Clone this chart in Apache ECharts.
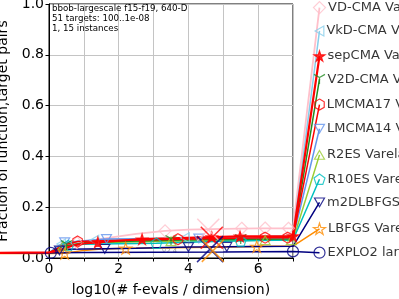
<!DOCTYPE html>
<html><head><meta charset="utf-8">
<script src="https://cdn.jsdelivr.net/npm/echarts@6/dist/echarts.min.js"></script>
<style>html,body{margin:0;padding:0;background:#fff}#c{width:399px;height:299px}</style>
</head><body><div id="c"></div>
<script>
// ---- text ----
const titleLines = ['bbob-largescale f15-f19, 640-D', '51 targets: 100..1e-08', '1, 15 instances'];
const xName = 'log10(# f-evals / dimension)';
const yName = 'Fraction of function,target pairs';
const xTickLabels = ['0', '', '2', '', '4', '', '6', ''];
const yTickLabels = ['0.0', '0.2', '0.4', '0.6', '0.8', '1.0'];
const versionText = 'v2.4';

// ---- algorithms (legend order, top to bottom) ----
const algNames = ['VD-CMA Varelas', 'VkD-CMA Varelas', 'sepCMA Varelas', 'V2D-CMA Varelas',
  'LMCMA17 Varelas', 'LMCMA14 Varelas', 'R2ES Varelas', 'R10ES Varelas',
  'm2DLBFGS Varelas', 'LBFGS Varelas', 'EXPLO2 largescale'];
const legendX = 7.76;
const legendY = [0.986, 0.894, 0.795, 0.704, 0.604, 0.509, 0.406, 0.310, 0.219, 0.115, 0.021];

// ECDF curves [log10(evals/dim), fraction]
const vdCurve   = [[-1.5,0.02],[0,0.02],[0.5,0.04],[0.8,0.06],[1.5,0.075],[2.5,0.095],[3.33,0.107],[4,0.112],[5,0.115],[6,0.117],[7,0.117]];
const vkdCurve  = [[-1.5,0.02],[0,0.02],[0.3,0.05],[0.8,0.065],[1.5,0.072],[2.5,0.076],[4,0.08],[5.5,0.083],[7,0.088]];
const sepCurve  = [[-1.5,0.02],[0,0.022],[0.3,0.03],[0.7,0.05],[1,0.057],[1.4,0.061],[2,0.068],[2.67,0.074],[3.5,0.077],[4.67,0.082],[5.48,0.085],[7,0.086]];
const v2dCurve  = [[-1.5,0.02],[0,0.02],[0.4,0.045],[1,0.06],[2,0.065],[3.5,0.07],[5,0.073],[7,0.075]];
const lm17Curve = [[-1.5,0.02],[0,0.02],[0.4,0.05],[0.82,0.065],[1.5,0.068],[3,0.072],[4.5,0.076],[6.2,0.08],[7,0.08]];
const lm14Curve = [[-1.5,0.02],[0,0.02],[0.4,0.06],[1,0.068],[1.65,0.075],[3,0.076],[4.3,0.077],[5.5,0.078],[7,0.078]];
const r2Curve   = [[-1.5,0.02],[0,0.02],[0.35,0.045],[1,0.058],[2,0.062],[3.5,0.066],[5,0.068],[6.2,0.07],[7,0.07]];
const r10Curve  = [[-1.5,0.02],[0,0.02],[0.3,0.04],[0.6,0.05],[1,0.054],[2,0.056],[3.08,0.058],[4,0.062],[5,0.066],[6,0.069],[7,0.071]];
const m2dCurve  = [[-1.5,0.02],[0,0.02],[0.2,0.028],[0.5,0.034],[1.6,0.036],[2.5,0.038],[4,0.043],[5.1,0.044],[6,0.045],[7,0.046]];
const lbfgsCurve= [[-1.5,0.018],[0,0.018],[0.45,0.019],[1,0.03],[1.5,0.035],[2.2,0.038],[3.5,0.04],[4.6,0.042],[5.96,0.045],[7,0.047]];
const exploCurve= [[-1.5,0.02],[0,0.02],[0.2,0.021],[1,0.022],[3,0.023],[5,0.024],[7,0.026]];

// marker positions on the curves
const vdMarks   = [[0.8,0.06],[3.33,0.107],[5.53,0.117],[6.2,0.118],[6.87,0.117]];
const vkdMarks  = [[0.35,0.055],[1.3,0.07],[3.9,0.08]];
const sepMarks  = [[1.4,0.061],[2.67,0.074],[4.67,0.082],[5.48,0.085],[7,0.086]];
const v2dMarks  = [[0.5,0.05],[3.5,0.07],[5.5,0.074]];
const lm17Marks = [[0.82,0.065],[3.7,0.074],[6.2,0.08],[6.85,0.08]];
const lm14Marks = [[0.45,0.062],[1.65,0.075],[4.3,0.077]];
const r2Marks   = [[0.4,0.048],[3.5,0.066],[6.2,0.07],[6.95,0.07]];
const r10Marks  = [[0.55,0.049],[3.08,0.058],[5.5,0.067]];
const m2dMarks  = [[0.3,0.03],[1.6,0.036],[4.0,0.043],[5.1,0.044]];
const lbfgsMarks= [[0.45,0.019],[2.2,0.038],[5.96,0.045]];
const exploMarks= [[0.05,0.02],[7,0.026]];

// budget crosses
const crossPts = [[4.57,0.111],[4.67,0.08],[4.62,0.035],[4.7,0.028]];

// ---- layout / styles ----
const G = { left: 49, right: 106, top: 4, bottom: 41, W: 399, H: 299, xMin: 0, xMax: 7, yMin: 0, yMax: 1 };
const gw = G.W - G.left - G.right, gh = G.H - G.top - G.bottom;
const xu = (G.xMax - G.xMin) / gw, yu = (G.yMax - G.yMin) / gh;
const full = { xMin: G.xMin - G.left * xu, xMax: G.xMax + G.right * xu, yMin: G.yMin - G.bottom * yu, yMax: G.yMax + G.top * yu };

const colors = ['#ffc0cb','#87ceeb','#ff0000','#228b22','#ff0000','#6495ed','#9acd32','#00bfbf','#000080','#ff8c00','#000080'];
const S = {
  diamond: 'path://M50,0 L100,50 L50,100 L0,50 Z',
  triLeft: 'path://M87,0 L87,100 L0,50 Z',
  star: 'path://M50,0 L61,35 L98,35 L68,57 L79,91 L50,70 L21,91 L32,57 L2,35 L39,35 Z',
  tri1: 'path://M50,50 L50,100 M50,50 L7,25 M50,50 L93,25',
  hex: 'path://M50,0 L93,25 L93,75 L50,100 L7,75 L7,25 Z',
  triDown: 'path://M0,0 L100,0 L50,87 Z',
  triUp: 'path://M50,0 L100,87 L0,87 Z',
  pent: 'path://M50,0 L98,35 L79,91 L21,91 L2,35 Z',
  circle: 'circle',
  cross: 'path://M0,0 L100,100 M100,0 L0,100'
};
const symbols = [S.diamond,S.triLeft,S.star,S.tri1,S.hex,S.triDown,S.triUp,S.pent,S.triDown,S.star,S.circle];
const sizes = [12,10,11,11,11,10,10,11,10,12,11];
const filled = [false,false,true,false,false,false,false,false,false,false,false];
const lineW = [1.8,1.5,2.2,1.5,1.5,1.5,1.5,1.5,1.5,1.5,1.5];
const crossColors = ['#ffc0cb','#ff0000','#000080','#ff8c00'];

const curves = [vdCurve,vkdCurve,sepCurve,v2dCurve,lm17Curve,lm14Curve,r2Curve,r10Curve,m2dCurve,lbfgsCurve,exploCurve];
const marks = [vdMarks,vkdMarks,sepMarks,v2dMarks,lm17Marks,lm14Marks,r2Marks,r10Marks,m2dMarks,lbfgsMarks,exploMarks];

const FONT = 'DejaVu Sans';
const drawOrder = [0,1,5,6,7,3,4,9,8,10,2];
const series = [];
const onFull = { xAxisIndex: 1, yAxisIndex: 1 };
drawOrder.forEach((i, k) => {
  const c = colors[i];
  series.push(Object.assign({
    type: 'line', data: curves[i].concat([[legendX, legendY[i]]]),
    showSymbol: false, symbol: 'none', silent: true, z: 2 + k * 0.01,
    lineStyle: { color: c, width: lineW[i] }, animation: false
  }, onFull));
  const mdata = marks[i].map(p => ({ value: p }));
  mdata.push({ value: [legendX, legendY[i]], label: {
    show: true, position: 'right', distance: 2, formatter: algNames[i],
    color: '#000', fontSize: 13, fontFamily: FONT } });
  series.push(Object.assign({
    type: 'scatter', data: mdata, symbol: symbols[i], symbolSize: sizes[i], symbolKeepAspect: true,
    silent: true, z: 3 + k * 0.01, animation: false,
    itemStyle: { color: filled[i] ? c : 'rgba(0,0,0,0)', borderColor: c, borderWidth: 1.2 }
  }, onFull));
});
series.push(Object.assign({
  type: 'scatter', symbol: S.cross, symbolSize: 22, silent: true, z: 4, animation: false,
  data: crossPts.map((p, j) => ({ value: p, symbolSize: j === 2 ? 26 : 22,
    itemStyle: { color: 'rgba(0,0,0,0)', borderColor: crossColors[j], borderWidth: 1.5, opacity: 0.8 } }))
}, onFull));

const chart = echarts.init(document.getElementById('c'), null, { renderer: 'canvas' });
chart.setOption({
  animation: false,
  backgroundColor: '#fff',
  grid: [
    { left: G.left, right: G.right, top: G.top, bottom: G.bottom, show: true, borderColor: '#000', borderWidth: 1,
      backgroundColor: 'rgba(0,0,0,0)', containLabel: false, outerBoundsMode: 'none' },
    { left: 0, right: 0, top: 0, bottom: 0, show: false, containLabel: false, outerBoundsMode: 'none' }
  ],
  xAxis: [{
    gridIndex: 0, type: 'value', min: G.xMin, max: G.xMax, interval: 1,
    name: xName, nameLocation: 'middle', nameGap: 25,
    nameTextStyle: { fontFamily: FONT, fontSize: 14, color: '#000' },
    axisLine: { lineStyle: { color: '#000', width: 1 } },
    axisTick: { show: true, length: 3.5, lineStyle: { color: '#000' } },
    axisLabel: { margin: 4, fontFamily: FONT, fontSize: 14, color: '#000',
      formatter: v => xTickLabels[Math.round(v)] || '' },
    splitLine: { show: true, lineStyle: { color: '#c4c4c4', width: 1 } }
  }, {
    gridIndex: 1, type: 'value', min: full.xMin, max: full.xMax, show: false
  }],
  yAxis: [{
    gridIndex: 0, type: 'value', min: G.yMin, max: G.yMax, interval: 0.2,
    name: yName, nameLocation: 'middle', nameGap: 31, nameRotate: 90,
    nameTextStyle: { fontFamily: FONT, fontSize: 14, color: '#000' },
    axisLine: { show: true, lineStyle: { color: '#000', width: 1 } },
    axisTick: { show: true, length: 3.5, lineStyle: { color: '#000' } },
    axisLabel: { margin: 5, fontFamily: FONT, fontSize: 14, color: '#000',
      formatter: v => yTickLabels[Math.round(v * 5)] },
    splitLine: { show: true, lineStyle: { color: '#c4c4c4', width: 1 } }
  }, {
    gridIndex: 1, type: 'value', min: full.yMin, max: full.yMax, show: false
  }],
  graphic: [
    { type: 'text', left: 52, top: 4, silent: true, z: 10,
      style: { text: titleLines.join('\n'), font: '8.7px "DejaVu Sans"', lineHeight: 9.7, fill: '#000' } },
    { type: 'text', left: 162, top: 248, silent: true, z: 1,
      style: { text: versionText, font: '7px "DejaVu Sans"', fill: '#9a9a9a' } }
  ],
  series: series
});
</script></body></html>
